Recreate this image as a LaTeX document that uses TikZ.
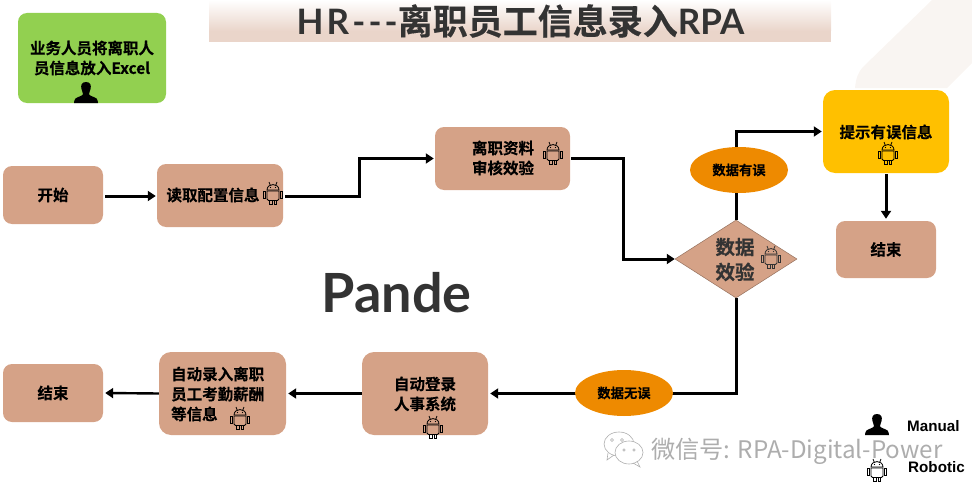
\documentclass[tikz,border=0pt]{standalone}
\usepackage{fontspec}
\setmainfont{Noto Sans CJK SC}[BoldFont={* Bold},BoldFeatures={FakeBold=0.3}]
\newfontfamily\lato{Lato}
\newfontfamily\arialf{Liberation Sans}
\usetikzlibrary{arrows.meta,shapes.geometric}
\definecolor{boxc}{HTML}{D5A287}
\definecolor{greenc}{HTML}{92D050}
\definecolor{yelc}{HTML}{FFC000}
\definecolor{orgc}{HTML}{EE8A00}
\definecolor{band}{HTML}{EAD5CA}
\definecolor{dark}{HTML}{333333}
\definecolor{faint}{HTML}{F9F5F2}
\definecolor{wm}{HTML}{ADADAD}
\tikzset{
  rbox/.style={rectangle,rounded corners=9pt,fill=#1,draw=none,inner sep=0pt,align=center,text=black,
    font=\fontsize{15.5}{20}\selectfont\bfseries},
  rbox/.default=boxc,
  lbl/.style={inner sep=0pt,align=center,text=black,font=\fontsize{15.5}{20}\selectfont\bfseries},
  ell/.style={ellipse,fill=orgc,draw=none,inner sep=0pt,minimum width=98pt,minimum height=46pt,text=black,
    font=\fontsize{13.3}{16}\selectfont\bfseries},
  arr/.style={draw=black,line width=3pt,-{Triangle[length=8pt,width=10pt]}},
  android/.pic={
    \begin{scope}[draw=#1,line width=.8pt,fill=none]
      \draw (-6,-3) .. controls (-6,-6.5) and (-3,-8.5) .. (0,-8.5) .. controls (3,-8.5) and (6,-6.5) .. (6,-3) -- cycle;
      \draw (-6,-2) -- (6,-2) -- (6,6) .. controls (6,7) and (5.5,7.5) .. (4.5,7.5) -- (-4.5,7.5) .. controls (-5.5,7.5) and (-6,7) .. (-6,6) -- cycle;
      \draw (-9.5,-2) -- (-7.3,-2) -- (-7.3,5) -- (-9.5,5) -- cycle;
      \draw (7.3,-2) -- (9.5,-2) -- (9.5,5) -- (7.3,5) -- cycle;
      \draw (-3.8,7.5) -- (-3.8,11.5) -- (-1,11.5) -- (-1,7.5);
      \draw (1,7.5) -- (1,11.5) -- (3.8,11.5) -- (3.8,7.5);
      \draw (-4,-11) -- (-2.8,-8) (4,-11) -- (2.8,-8);
      \fill[#1] (-2.5,-5.5) circle[radius=.7] (2.5,-5.5) circle[radius=.7];
    \end{scope}
  },
  android/.default={black!80},
  person/.pic={
    \fill[#1] (0,-10.5) .. controls (-4.5,-10.5) and (-5.5,-7) .. (-4.5,-3.5)
      .. controls (-4,-1.5) and (-3.3,0) .. (-3,1.5) .. controls (-3,3.5) and (-8,4) .. (-10.5,6)
      .. controls (-11.5,7) and (-12,9) .. (-12,10.5) -- (12,10.5)
      .. controls (12,9) and (11.5,7) .. (10.5,6) .. controls (8,4) and (3,3.5) .. (3,1.5)
      .. controls (3.3,0) and (4,-1.5) .. (4.5,-3.5) .. controls (5.5,-7) and (4.5,-10.5) .. (0,-10.5) -- cycle;
  },
  person/.default={black!90}
}
\begin{document}
\begin{tikzpicture}[x=1pt,y=-1pt]
\useasboundingbox (0,0) rectangle (972,495);
% background decoration
\fill[faint] (932,0) -- (972,0) -- (972,63) -- (947,88) -- (855,88) .. controls (856,78) and (858,72) .. (864,66) -- cycle;
% title
\shade[top color=white,bottom color=band] (209,0) rectangle (831,31);
\fill[band] (209,31) rectangle (831,42);
\node[inner sep=0pt,text=dark,font=\fontsize{35}{38}\selectfont\bfseries] (title) at (520.5,21) {{\lato\bfseries\addfontfeature{LetterSpace=9}HR---}离职员工信息录入{\lato\bfseries RPA}};
% nodes
\node[rbox=greenc,minimum width=148pt,minimum height=90pt] (biz) at (92,58) {};
\node[lbl] (bizT) at (92,58) {业务人员将离职人\\员信息放入Excel};
\node[rbox,minimum width=100pt,minimum height=58pt] (start) at (53,195) {开始};
\node[rbox,minimum width=126pt,minimum height=63pt] (read) at (220,195.5) {};
\node[lbl] (readT) at (213,195) {读取配置信息};
\node[rbox,minimum width=135pt,minimum height=63pt] (audit) at (502.5,158.5) {};
\node[lbl] (auditT) at (503,158) {离职资料\\审核效验};
\node[diamond,aspect=1.56,fill=boxc,draw=boxc!70!black,line width=.5pt,inner sep=0pt,minimum width=122pt,minimum height=78pt] (check) at (736,259) {};
\node[inner sep=0pt,align=center,text=dark,font=\fontsize{19.5}{25}\selectfont\bfseries] (checkT) at (735,259.5) {数据\\效验};
\node[rbox=yelc,minimum width=126pt,minimum height=83pt,rounded corners=12pt] (warn) at (886,131.5) {};
\node[lbl] (warnT) at (886,132) {提示有误信息};
\node[rbox,minimum width=100pt,minimum height=57pt] (endR) at (886,249.5) {结束};
\node[rbox,minimum width=126pt,minimum height=83pt,rounded corners=12pt] (login) at (425,393.5) {};
\node[lbl] (loginT) at (425,394) {自动登录\\人事系统};
\node[rbox,minimum width=127pt,minimum height=83pt,rounded corners=12pt] (entry) at (222.5,393.5) {};
\node[lbl,align=left,anchor=west] (entryT) at (171,394) {自动录入离职\\员工考勤薪酬\\等信息};
\node[rbox,minimum width=100pt,minimum height=58pt] (endL) at (53,393) {结束};
% connectors
\draw[arr] ([shift={(2,1)}]start.east) -- ([shift={(-1,.5)}]read.west);
\draw[arr] ([shift={(2,1)}]read.east) -- (359,196.5) |- ([xshift=-1pt]audit.west);
\draw[arr] ([xshift=1pt]audit.east) -- (623,158.5) |- (check.west);
\draw[arr] (check.north) |- ([xshift=-1pt]warn.west);
\draw[arr] ([shift={(0,1)}]warn.south) -- ([shift={(0,-2)}]endR.north);
\draw[arr] (check.south) |- ([xshift=2pt]login.east);
\draw[arr] (login.west) -- ([xshift=2pt]entry.east);
\draw[arr,line width=2.4pt] (entry.west) -- ([xshift=2pt]endL.east);
\node[ell] (bad) at (739,170) {数据有误};
\node[ell] (good) at (624,393) {数据无误};
% icons
\pic at (273,193) {android};
\pic at (553,153) {android};
\pic at (771,257) {android={dark}};
\pic at (888,153) {android};
\pic at (240,418) {android};
\pic at (433,427) {android};
\pic at (877,470) {android};
\pic at (86,92.5) {person};
\pic at (877,424.5) {person};
% big text
\node[inner sep=0pt,text=dark,font=\fontsize{54}{58}\selectfont\bfseries\lato] (pande) at (396.5,293) {Pande};
% legend
\node[inner sep=0pt,anchor=west,text=black,font=\fontsize{15.2}{16}\selectfont\bfseries\arialf] (manual) at (907,426) {Manual};
\node[inner sep=0pt,anchor=west,text=black,font=\fontsize{15.2}{16}\selectfont\bfseries\arialf] (robotic) at (908,467) {Robotic};
% watermark
\begin{scope}[draw=wm,line width=.6pt,fill=white]
  \draw (619,444) ellipse [x radius=15,y radius=12];
  \draw (608,453) -- (607,460) -- (614,455);
  \draw[fill=white] (629,452.5) ellipse [x radius=14,y radius=11.5];
  \draw (637,461) -- (640,467) -- (633,463);
  \draw (612,440) circle [radius=1.5] (622,440) circle [radius=1.5] (624,450) circle [radius=1.2] (634,450) circle [radius=1.2];
\end{scope}
\node[inner sep=0pt,anchor=west,text=wm,font=\fontsize{24.2}{26}\selectfont] (mark) at (651,451) {微信号: RPA-Digital-Power};
\end{tikzpicture}
\end{document}
